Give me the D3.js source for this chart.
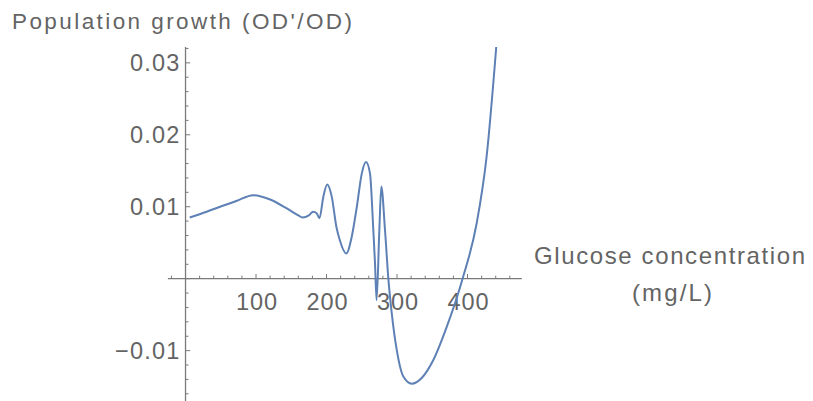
<!DOCTYPE html>
<html>
<head>
<meta charset="utf-8">
<script src="https://cdn.jsdelivr.net/npm/d3@7"></script>
<style>
  body { margin: 0; background: #fff; }
  svg { display: block; }
  text { font-family: "Liberation Sans", Arial, sans-serif; fill: #646464; }
</style>
</head>
<body>
<svg id="chart" width="813" height="401"></svg>
<script>
// glucose concentration (mg/L) and growth rate
var glucose = [6, 30, 49, 72, 96, 120, 143, 160, 166, 175, 181, 186, 190, 195.5, 201, 207.4, 214, 219, 228, 235.7, 243, 250, 256, 261.7, 266.4, 268.8, 271, 274.9, 277.7, 283, 287.7, 292.5, 299.6, 309, 321, 335, 351.5, 370.5, 393, 413, 427, 441];
var growth = [0.0085, 0.0093, 0.0100, 0.0108, 0.0116, 0.0110, 0.0098, 0.0088, 0.0085, 0.0088, 0.0093, 0.0091, 0.0084, 0.0114, 0.0131, 0.0114, 0.0072, 0.0053, 0.0035, 0.0058, 0.0100, 0.0146, 0.0162, 0.0146, 0.0067, 0.0021, -0.0030, 0.0067, 0.0128, 0.0067, 0.0000, -0.0048, -0.0099, -0.0136, -0.0146, -0.0138, -0.0113, -0.0067, 0.0000, 0.0077, 0.0169, 0.0325];
var xTicks = [100, 200, 300, 400];
var yTicks = [-0.01, 0.01, 0.02, 0.03];
var yTitle = "Population growth (OD'/OD)";
var xTitle = ["Glucose concentration", "(mg/L)"];

var svg = d3.select("#chart");
var x = d3.scaleLinear().domain([-25, 477]).range([167.9, 521.8]);
var y = d3.scaleLinear().domain([-0.0170, 0.0322]).range([401, 47]);
var axisColor = "#7a7a7a";

// minor ticks every 20 on x, every 0.002 on y
var xMinor = d3.range(-20, 477, 20);
var yMinor = d3.range(-16, 33, 2).map(function(d) { return d / 1000; });

var g = svg.append("g");

// x axis line and ticks (pointing up)
g.append("line")
  .attr("x1", x(-25)).attr("x2", x(477))
  .attr("y1", y(0)).attr("y2", y(0))
  .attr("stroke", axisColor).attr("stroke-width", 1.3);
g.selectAll(".xtick").data(xMinor).enter().append("line")
  .attr("x1", function(d) { return x(d); }).attr("x2", function(d) { return x(d); })
  .attr("y1", y(0)).attr("y2", function(d) { return y(0) - (d % 100 === 0 ? 4.7 : 3); })
  .attr("stroke", axisColor).attr("stroke-width", 1);

// y axis line and ticks (pointing right)
g.append("line")
  .attr("x1", x(0)).attr("x2", x(0))
  .attr("y1", y(0.0322)).attr("y2", y(-0.0170))
  .attr("stroke", axisColor).attr("stroke-width", 1.3);
g.selectAll(".ytick").data(yMinor).enter().append("line")
  .attr("x1", x(0)).attr("x2", function(d) {
    return x(0) + (Math.abs(Math.round(d * 1000)) % 10 === 0 ? 4.7 : 3);
  })
  .attr("y1", function(d) { return y(d); }).attr("y2", function(d) { return y(d); })
  .attr("stroke", axisColor).attr("stroke-width", 1);

// tick labels
g.selectAll(".xlab").data(xTicks).enter().append("text")
  .attr("x", function(d) { return x(d) + 1; })
  .attr("y", y(0) + 31.5)
  .attr("text-anchor", "middle")
  .style("font-size", "23.5px").style("letter-spacing", "0.9px")
  .text(function(d) { return d; });

g.selectAll(".ylab").data(yTicks).enter().append("text")
  .attr("x", x(0) - 5)
  .attr("y", function(d) { return y(d) + 8.3; })
  .attr("text-anchor", "end")
  .style("font-size", "23.5px").style("letter-spacing", "1.2px")
  .text(function(d) { return d < 0 ? "\u2212" + d3.format(".2f")(-d) : d3.format(".2f")(d); });

// axis titles
svg.append("text")
  .attr("x", 12).attr("y", 28.5)
  .attr("textLength", 340).attr("lengthAdjust", "spacing")
  .style("font-size", "22.5px")
  .text(yTitle);
svg.append("text")
  .attr("x", 534).attr("y", 263.5)
  .attr("textLength", 271).attr("lengthAdjust", "spacing")
  .style("font-size", "24px")
  .text(xTitle[0]);
svg.append("text")
  .attr("x", 632).attr("y", 300.5)
  .attr("textLength", 80).attr("lengthAdjust", "spacing")
  .style("font-size", "24px")
  .text(xTitle[1]);

// curve
svg.append("clipPath").attr("id", "clip").append("rect")
  .attr("x", x(-25)).attr("y", y(0.0322))
  .attr("width", x(477) - x(-25)).attr("height", y(-0.0170) - y(0.0322));

var pts = glucose.map(function(d, i) { return [d, growth[i]]; });
var line = d3.line()
  .x(function(d) { return x(d[0]); })
  .y(function(d) { return y(d[1]); })
  .curve(d3.curveMonotoneX);

svg.append("path")
  .datum(pts)
  .attr("clip-path", "url(#clip)")
  .attr("fill", "none")
  .attr("stroke", "#5E81B5")
  .attr("stroke-width", 2)
  .attr("stroke-linejoin", "round")
  .attr("d", line);
</script>
</body>
</html>
